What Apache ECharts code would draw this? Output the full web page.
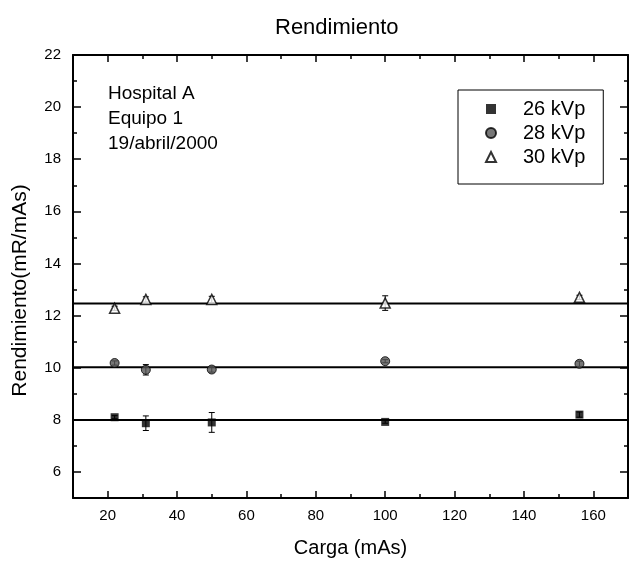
<!DOCTYPE html>
<html>
<head>
<meta charset="utf-8">
<script src="https://cdn.jsdelivr.net/npm/echarts@6/dist/echarts.min.js"></script>
<style>
  html, body { margin: 0; padding: 0; background: #fff; }
  #chart { width: 630px; height: 570px; }
</style>
</head>
<body>
<div id="chart"></div>
<script>
// Charge values (mAs) at which output was measured
const cargas = [22, 31, 50, 100, 156];

// Output (mR/mAs) per tube voltage, with measurement uncertainty
const rend26 = [8.10, 7.87, 7.90, 7.92, 8.20];
const err26  = [0.06, 0.28, 0.38, 0.05, 0.10];
const rend28 = [10.18, 9.92, 9.93, 10.25, 10.15];
const err28  = [0.08, 0.20, 0.10, 0.06, 0.10];
const rend30 = [12.28, 12.62, 12.62, 12.48, 12.70];
const err30  = [0.08, 0.10, 0.12, 0.28, 0.08];

// Constant fit level for each voltage
const ajustes = [7.99, 10.02, 12.46];

const seriesNames = ['26 kVp', '28 kVp', '30 kVp'];

// Axis ranges and tick positions
const xRange = [10, 170];
const yRange = [5, 22];
const xMajor = [20, 40, 60, 80, 100, 120, 140, 160];
const xMinor = [30, 50, 70, 90, 110, 130, 150];
const yMajor = [6, 8, 10, 12, 14, 16, 18, 20, 22];
const yMinor = [7, 9, 11, 13, 15, 17, 19, 21];

const FONT = 'Liberation Sans, Arial, Helvetica, sans-serif';

function pairs(xs, ys) { return xs.map((x, i) => [x, ys[i]]); }
function triples(xs, ys, es) { return xs.map((x, i) => [x, ys[i], es[i]]); }

function errorBar(params, api) {
  const x = api.value(0), y = api.value(1), e = api.value(2);
  const hi = api.coord([x, y + e]);
  const lo = api.coord([x, y - e]);
  const w = 3;
  const st = { stroke: '#000', lineWidth: 1 };
  return {
    type: 'group',
    children: [
      { type: 'line', shape: { x1: hi[0], y1: hi[1], x2: lo[0], y2: lo[1] }, style: st },
      { type: 'line', shape: { x1: hi[0] - w, y1: hi[1], x2: hi[0] + w, y2: hi[1] }, style: st },
      { type: 'line', shape: { x1: lo[0] - w, y1: lo[1], x2: lo[0] + w, y2: lo[1] }, style: st }
    ]
  };
}

function xAxisDef(position, ticks, len, showLine, showLabel, extra) {
  return Object.assign({
    type: 'value', position: position, min: xRange[0], max: xRange[1],
    axisLine: { show: showLine, onZero: false, lineStyle: { color: '#000', width: 2 } },
    axisTick: { show: true, inside: true, length: len, customValues: ticks, lineStyle: { color: '#000', width: 1.5 } },
    axisLabel: { show: showLabel, customValues: ticks, color: '#000', fontSize: 15, fontFamily: FONT, margin: 10 },
    splitLine: { show: false }
  }, extra || {});
}
function yAxisDef(position, ticks, len, showLine, showLabel, extra) {
  return Object.assign({
    type: 'value', position: position, min: yRange[0], max: yRange[1],
    axisLine: { show: showLine, onZero: false, lineStyle: { color: '#000', width: 2 } },
    axisTick: { show: true, inside: true, length: len, customValues: ticks, lineStyle: { color: '#000', width: 1.5 } },
    axisLabel: { show: showLabel, customValues: ticks, color: '#000', fontSize: 15, fontFamily: FONT, margin: 12 },
    splitLine: { show: false }
  }, extra || {});
}

const markers = [
  { symbol: 'rect', size: 8, style: { color: '#000' } },
  { symbol: 'circle', size: 9, style: { color: '#555', borderColor: '#000', borderWidth: 1 } },
  { symbol: 'triangle', size: 10, style: { color: '#fff', borderColor: '#000', borderWidth: 1.5 } }
];
const values = [rend26, rend28, rend30];
const errors = [err26, err28, err30];

const series = [];
ajustes.forEach((v) => {
  series.push({
    type: 'line', data: [[xRange[0], v], [xRange[1], v]], symbol: 'none', silent: true,
    lineStyle: { color: '#000', width: 2 }, z: 1
  });
});
errors.forEach((es, i) => {
  series.push({
    type: 'custom', renderItem: errorBar, data: triples(cargas, values[i], es), z: 2, silent: true
  });
});
values.forEach((ys, i) => {
  series.push({
    name: seriesNames[i], type: 'scatter', data: pairs(cargas, ys),
    symbol: markers[i].symbol, symbolSize: markers[i].size, itemStyle: markers[i].style, z: 3
  });
});

const chart = echarts.init(document.getElementById('chart'), null, { renderer: 'canvas' });
chart.setOption({
  backgroundColor: '#fff',
  animation: false,
  title: {
    text: 'Rendimiento', left: 270, top: 12,
    textStyle: { fontFamily: FONT, fontSize: 22, fontWeight: 'normal', color: '#000' }
  },
  legend: {
    data: seriesNames, orient: 'vertical', left: 458, top: 90,
    padding: [9, 18, 17, 27], itemGap: 4, itemWidth: 10, itemHeight: 10,
    borderColor: '#000', borderWidth: 1,
    textStyle: { fontFamily: FONT, fontSize: 20, color: '#000', lineHeight: 20, padding: [0, 0, 0, 22] }
  },
  grid: { left: 73, right: 2, top: 55, bottom: 72, containLabel: false },
  xAxis: [
    xAxisDef('bottom', xMajor, 7, true, true, {
      name: 'Carga (mAs)', nameLocation: 'middle', nameGap: 40,
      nameTextStyle: { fontFamily: FONT, fontSize: 20, color: '#000' }
    }),
    xAxisDef('bottom', xMinor, 4, false, false),
    xAxisDef('top', xMajor, 7, true, false),
    xAxisDef('top', xMinor, 4, false, false)
  ],
  yAxis: [
    yAxisDef('left', yMajor, 8, true, true, {
      name: 'Rendimiento(mR/mAs)', nameLocation: 'middle', nameGap: 42,
      nameTextStyle: { fontFamily: FONT, fontSize: 21, color: '#000', padding: [0, 28, 0, 0] }
    }),
    yAxisDef('left', yMinor, 4, false, false),
    yAxisDef('right', yMajor, 8, true, false),
    yAxisDef('right', yMinor, 4, false, false)
  ],
  graphic: [{
    type: 'text', left: 108, top: 81, silent: true,
    style: {
      text: 'Hospital A\nEquipo 1\n19/abril/2000',
      font: '19px ' + FONT, fill: '#000', lineHeight: 25
    }
  }],
  series: series
});
</script>
</body>
</html>
